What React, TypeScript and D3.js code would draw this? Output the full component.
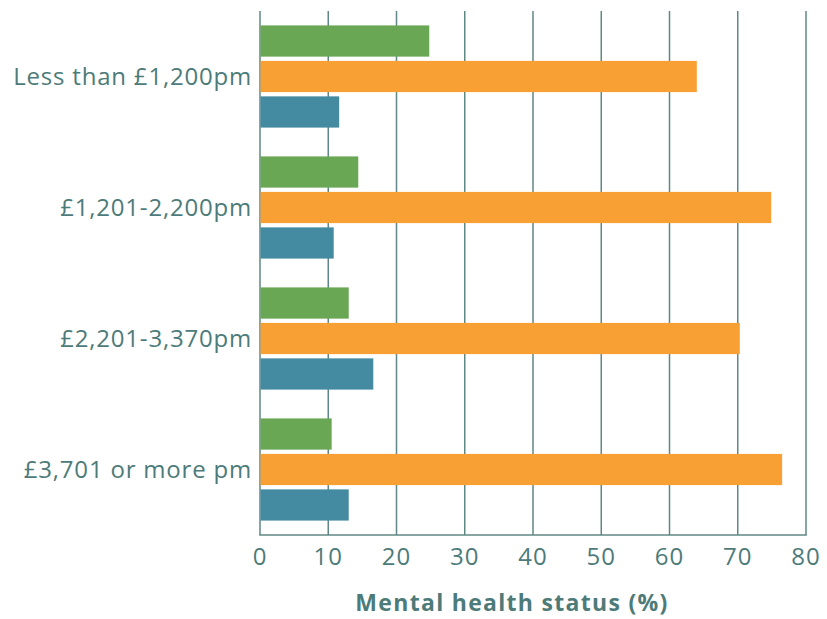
import React, { useEffect, useRef } from 'react';
import * as d3 from 'd3';

// income bands, top to bottom
const categories = ['Less than £1,200pm', '£1,201-2,200pm', '£2,201-3,370pm', '£3,701 or more pm'];
const seriesKeys = ['green', 'orange', 'blue'];
const greenValues = [24.8, 14.4, 13.0, 10.5];
const orangeValues = [64.0, 74.9, 70.3, 76.5];
const blueValues = [11.6, 10.8, 16.6, 13.0];
const xTicks = [0, 10, 20, 30, 40, 50, 60, 70, 80];
const axisTitle = 'Mental health status (%)';

const colors: Record<string, string> = { green: '#6aa755', orange: '#f8a033', blue: '#448ba1' };
const textColor = '#4d7b79';
const gridColor = '#5e8785';
const font = '"Open Sans", sans-serif';

const App = () => {
  const svgRef = useRef<SVGSVGElement | null>(null);

  useEffect(() => {
    const width = 827;
    const height = 619;
    const margin = { top: 11, right: 21, bottom: 84, left: 260 };

    const svg = d3.select(svgRef.current);
    svg.selectAll('*').remove();
    svg.attr('width', width).attr('height', height);

    const x = d3.scaleLinear().domain([0, 80]).range([margin.left, width - margin.right]);
    const y = d3.scaleBand<string>()
      .domain(categories)
      .range([margin.top, height - margin.bottom])
      .paddingInner(0.22)
      .paddingOuter(0.11);
    const ySub = d3.scaleBand<string>()
      .domain(seriesKeys)
      .range([0, y.bandwidth()])
      .paddingInner(0.12);

    const rows = categories.map((c, i) => ({
      category: c,
      green: greenValues[i],
      orange: orangeValues[i],
      blue: blueValues[i],
    }));

    // vertical grid
    svg.append('g')
      .selectAll('line')
      .data(xTicks)
      .enter()
      .append('line')
      .attr('x1', d => x(d))
      .attr('x2', d => x(d))
      .attr('y1', margin.top)
      .attr('y2', height - margin.bottom)
      .attr('stroke', gridColor)
      .attr('stroke-width', 1.5);

    // bottom axis line
    svg.append('line')
      .attr('x1', x(0) - 0.75)
      .attr('x2', x(80) + 0.75)
      .attr('y1', height - margin.bottom)
      .attr('y2', height - margin.bottom)
      .attr('stroke', gridColor)
      .attr('stroke-width', 1.5);

    // bars
    const groups = svg.append('g')
      .selectAll('g')
      .data(rows)
      .enter()
      .append('g')
      .attr('transform', d => `translate(0, ${y(d.category)})`);

    groups.selectAll('rect')
      .data(d => seriesKeys.map(k => ({ key: k, value: (d as any)[k] as number })))
      .enter()
      .append('rect')
      .attr('x', x(0) + 0.5)
      .attr('y', d => ySub(d.key) as number)
      .attr('width', d => x(d.value) - x(0) - 0.5)
      .attr('height', ySub.bandwidth())
      .attr('fill', d => colors[d.key]);

    // category labels
    svg.append('g')
      .selectAll('text')
      .data(categories)
      .enter()
      .append('text')
      .attr('x', margin.left - 8)
      .attr('y', d => (y(d) as number) + y.bandwidth() / 2)
      .attr('dy', '0.35em')
      .attr('text-anchor', 'end')
      .attr('font-family', font)
      .attr('font-size', '24px')
      .attr('letter-spacing', '0.8px')
      .attr('fill', textColor)
      .text(d => d);

    // tick labels
    svg.append('g')
      .selectAll('text')
      .data(xTicks)
      .enter()
      .append('text')
      .attr('x', d => x(d))
      .attr('y', 557)
      .attr('dy', '0.35em')
      .attr('text-anchor', 'middle')
      .attr('font-family', font)
      .attr('font-size', '24px')
      .attr('letter-spacing', '1px')
      .attr('fill', textColor)
      .text(d => d);

    // axis title
    svg.append('text')
      .attr('x', 512)
      .attr('y', 611)
      .attr('text-anchor', 'middle')
      .attr('font-family', font)
      .attr('font-weight', 'bold')
      .attr('font-size', '23px')
      .attr('letter-spacing', '1.3px')
      .attr('fill', textColor)
      .text(axisTitle);
  }, []);

  return (
    <svg ref={svgRef} style={{ position: 'absolute', left: 0, top: 0 }}></svg>
  );
};

export default App;
